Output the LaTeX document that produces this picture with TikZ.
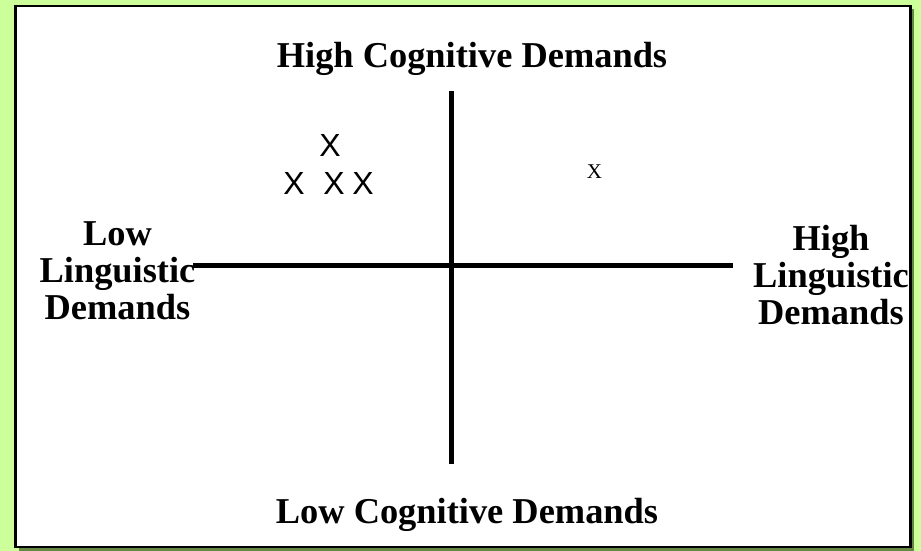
\documentclass[tikz,border=0pt]{standalone}
\usepackage{fontspec}
\setmainfont{Liberation Serif}
\newfontfamily\xsans{Liberation Sans}
\definecolor{bggreen}{RGB}{204,255,153}
\definecolor{shadowgreen}{RGB}{102,136,68}
\begin{document}
\begin{tikzpicture}[x=1pt,y=-1pt,
  lbl/.style={inner sep=0pt,font=\bfseries\fontsize{36.4}{37}\selectfont,align=center},
  xmark/.style={inner sep=0pt,anchor=base,font=\xsans\fontsize{32}{34}\selectfont},
  axisline/.style={line width=4.6pt,black}]
\useasboundingbox (0,0) rectangle (921,551);
\fill[bggreen] (0,0) rectangle (921,551);
% shadow and card
\fill[shadowgreen] (18.5,9) rectangle (914,551);
\fill[white] (15.3,6) rectangle (910.6,547);
% axes
\coordinate (vtop) at (451.3,91);
\coordinate (vbot) at (451.3,464);
\coordinate (hl) at (193,265.7);
\coordinate (hr) at (733,265.7);
\draw[axisline] (vtop) -- (vbot);
\draw[axisline] (hl) -- (hr);
% labels
\node[lbl,anchor=base] (hcd) at (472,68) {High Cognitive Demands};
\node[lbl,anchor=base] (lcd) at (467,523) {Low Cognitive Demands};
\node[lbl,anchor=north] (lld) at (117.5,221.2) {Low\\Linguistic\\Demands};
\node[lbl,anchor=north] (hld) at (831,224.7) {High\\Linguistic\\Demands};
% marks
\node[xmark] (x1) at (330,156) {X};
\node[xmark] (x2) at (294,194) {X};
\node[xmark] (x3) at (334,194) {X};
\node[xmark] (x4) at (363,194) {X};
\node[inner sep=0pt,anchor=base,font=\fontsize{21}{23}\selectfont] (x5) at (594.5,178) {X};
% border on top
\draw[line width=2.7pt,black] (15.3,6) rectangle (910.6,547);
\end{tikzpicture}
\end{document}
